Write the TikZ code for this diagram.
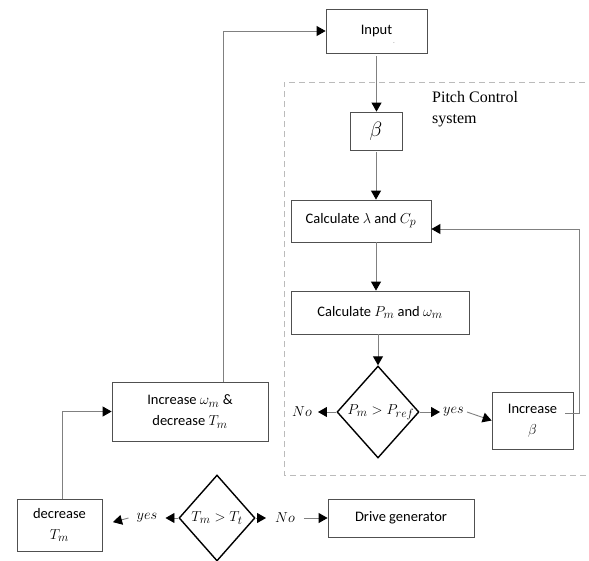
\documentclass[tikz,border=0pt]{standalone}
\usepackage{fontspec}
\setmainfont{Carlito}
\newfontfamily\tnrfont{Liberation Serif}
\usetikzlibrary{arrows.meta,shapes.geometric,calc}
\DeclareMathSizes{14.5}{15.8}{11.5}{9}
\DeclareMathSizes{20}{22}{14.4}{10}
\definecolor{linegray}{HTML}{808080}
\definecolor{boxgray}{HTML}{505050}
\definecolor{dashgray}{HTML}{BBBBBB}
\newcommand\myfs{\fontsize{14.5}{21}\selectfont}
\tikzset{
  box/.style={draw=boxgray, line width=0.8pt, inner sep=0pt, align=center, font=\myfs},
  decision/.style={diamond, draw=black, line width=1.4pt, inner sep=0pt},
  txt/.style={inner ysep=0pt, font=\myfs},
  conn/.style={draw=linegray, line width=0.9pt, -{Triangle[width=10pt,length=9pt,color=black]}},
}
\begin{document}
\begin{tikzpicture}[x=1pt,y=-1pt]
\useasboundingbox (0,0) rectangle (589,560);
% dashed pitch-control frame (right side beyond picture)
\draw[dashgray, line width=0.8pt, dash pattern=on 6pt off 4pt] (595,82) -- (284,82) -- (284,475) -- (595,475);
\node[anchor=north west, align=left, inner sep=0pt, font=\tnrfont\fontsize{16}{21}\selectfont] (pcs) at (432,91) {Pitch Control\\system};

\node[box, minimum width=101pt, minimum height=44pt] (input) at (376.5,31) {Input};
\node[inner sep=0pt, text=linegray, font=\scriptsize] (dot) at (394,43) {.};
\node[box, minimum width=52pt, minimum height=38pt, font=\fontsize{20}{24}\selectfont] (beta) at (376,131) {$\beta$};
\node[box, minimum width=140pt, minimum height=42pt] (calcl) at (361,221) {Calculate $\lambda$ and $C_p$};
\node[box, minimum width=178pt, minimum height=43pt] (calcp) at (380,312.5) {Calculate $P_m$ and $\omega_m$};
\node[decision, minimum width=82pt, minimum height=92pt, label={[font=\myfs, xshift=3pt]center:$P_m > P_{ref}$}] (dp) at (378,412) {};
\node[txt, inner xsep=6pt] (no1) at (302,412) {$No$};
\node[txt, inner xsep=3pt] (yes1) at (453.5,412) {$yes$};
\node[box, minimum width=81pt, minimum height=57pt] (incb) at (532.5,420.5) {Increase\\$\beta$};

\node[box, minimum width=156pt, minimum height=59pt] (incw) at (190,411.5) {Increase $\omega_m$ \&\\decrease $T_m$};
\node[box, minimum width=85pt, minimum height=52pt] (dec) at (59.5,525) {decrease\\$T_m$};
\node[decision, minimum width=76pt, minimum height=86pt, label={[font=\myfs]center:$T_m > T_t$}] (dt) at (217,518) {};
\node[txt, inner xsep=8pt] (yes2) at (147,518) {$yes$};
\node[txt, inner xsep=9pt] (no2) at (285,518) {$No$};
\node[box, minimum width=146pt, minimum height=38pt] (drive) at (401,518) {Drive generator};

% connectors
\draw[conn, shorten <=3pt] (input.south) -- (input.south |- beta.north);
\draw[conn, shorten <=2pt] (beta.south) -- (beta.south |- calcl.north);
\draw[conn] (beta.south |- calcl.south) -- (beta.south |- calcp.north);
\draw[conn] (dp.north |- calcp.south) -- (dp.north);
\draw[conn] (dp.west) -- (no1.east);
\draw[conn] (dp.east) -- (yes1.west);
\draw[conn] (yes1.east) -- (incb.west);
\coordinate (fbstart) at ($(incb.east)+(-8,-7.5)$);
\draw[conn] (fbstart) -- ++(14,0) |- ($(calcl.east)+(0,8)$);
\coordinate (upstart) at ($(incw.north)+(33,0)$);
\draw[conn] (upstart) |- (input.west);
\coordinate (decstart) at ($(dec.north)+(2.5,0)$);
\draw[conn] (decstart) |- (incw.west);
\draw[conn] (dt.west) -- (yes2.east);
\draw[conn, shorten >=11pt] (yes2.west) -- (dec.east);
\draw[conn] (dt.east) -- (no2.west);
\draw[conn] (no2.east) -- (drive.west);
\end{tikzpicture}
\end{document}
